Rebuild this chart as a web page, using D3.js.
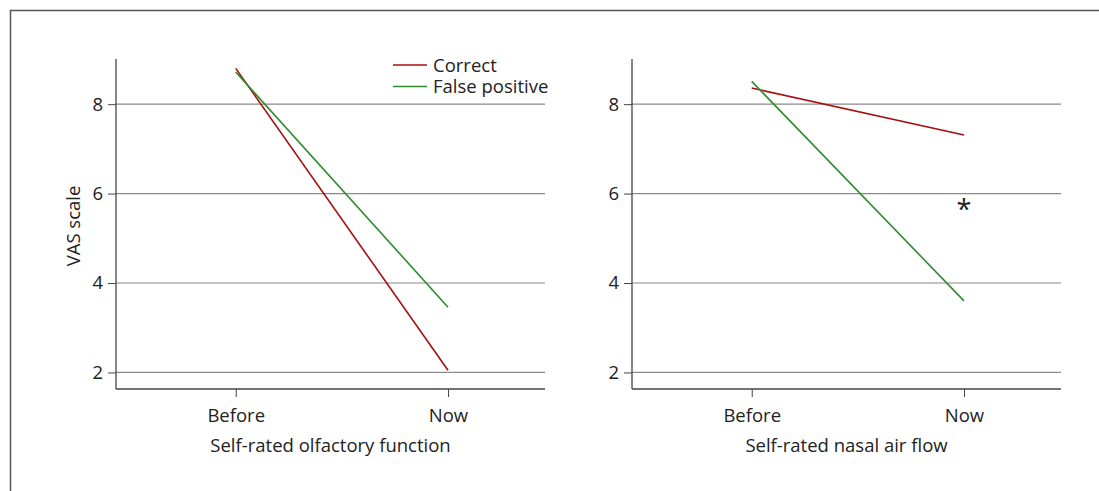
<!DOCTYPE html>
<html><head><meta charset="utf-8">
<script src="https://cdn.jsdelivr.net/npm/d3@7"></script>
<style>body{margin:0;background:#fff;} text{font-family:"Open Sans","Noto Sans",sans-serif;fill:#222;}</style>
</head><body>
<svg id="c" width="1099" height="491"></svg>
<script>
const categories = ["Before", "Now"];
const seriesNames = ["Correct", "False positive"];
const olfactoryCorrect = [8.80, 2.05];
const olfactoryFalsePositive = [8.72, 3.46];
const airflowCorrect = [8.36, 7.31];
const airflowFalsePositive = [8.51, 3.60];
const yTicks = [2, 4, 6, 8];
const panelTitles = ["Self-rated olfactory function", "Self-rated nasal air flow"];
const colors = ["#a50f0f", "#2e8b2e"];
const FS = 18.5;
const FF = '"Open Sans","Noto Sans",sans-serif';

const svg = d3.select("#c");
// outer frame
svg.append("path").attr("d","M10.5,491 L10.5,10.5 L1099,10.5").attr("fill","none").attr("stroke","#555").attr("stroke-width",1.5);

const panels = [
  {x0:116, x1:545, series:[olfactoryCorrect, olfactoryFalsePositive], title:panelTitles[0], ylabel:true, legend:true, star:false},
  {x0:632, x1:1061, series:[airflowCorrect, airflowFalsePositive], title:panelTitles[1], ylabel:false, legend:false, star:true}
];
const yTop = 59, yBot = 389;
const y = d3.scaleLinear().domain([1.63, 9.01]).range([yBot, yTop]);

panels.forEach(p => {
  const x = d3.scaleLinear().domain([0.436, 2.457]).range([p.x0, p.x1]);
  const g = svg.append("g");
  // gridlines
  g.selectAll("line.grid").data(yTicks).enter().append("line")
    .attr("x1", p.x0).attr("x2", p.x1).attr("y1", d=>y(d)).attr("y2", d=>y(d))
    .attr("stroke","#8a8a8a").attr("stroke-width",1.2);
  // y axis
  const ya = g.append("g").attr("transform",`translate(${p.x0},0)`)
    .call(d3.axisLeft(y).tickValues(yTicks).tickSize(8).tickPadding(5).tickFormat(d3.format("d")));
  ya.select(".domain").remove();
  ya.selectAll("line").attr("stroke","#444");
  ya.selectAll("text").attr("font-size",FS).style("font-family",FF).attr("fill","#222");
  g.append("line").attr("x1",p.x0).attr("x2",p.x0).attr("y1",yTop).attr("y2",yBot).attr("stroke","#444").attr("stroke-width",1.3);
  // x axis
  const xa = g.append("g").attr("transform",`translate(0,${yBot})`)
    .call(d3.axisBottom(x).tickValues([1,2]).tickSize(8).tickPadding(0).tickFormat((d,i)=>categories[i]));
  xa.select(".domain").remove();
  xa.selectAll("line").attr("stroke","#444");
  xa.selectAll("text").attr("font-size",FS).style("font-family",FF).attr("fill","#222").attr("dy",null).attr("y",33);
  g.append("line").attr("x1",p.x0).attr("x2",p.x1).attr("y1",yBot).attr("y2",yBot).attr("stroke","#444").attr("stroke-width",1.3);
  // lines
  const line = d3.line().x((d,i)=>x(i+1)).y(d=>y(d));
  p.series.forEach((s,i)=>{
    g.append("path").attr("d", line(s)).attr("fill","none").attr("stroke",colors[i]).attr("stroke-width",1.6);
  });
  // title
  g.append("text").attr("x",(p.x0+p.x1)/2).attr("y",452).attr("text-anchor","middle").attr("font-size",FS).text(p.title);
  if (p.ylabel) {
    g.append("text").attr("transform",`translate(80,226) rotate(-90)`).attr("text-anchor","middle").attr("font-size",FS).text("VAS scale");
  }
  if (p.star) {
    g.append("text").attr("x", x(2)).attr("y", y(5.75)+14).attr("text-anchor","middle").attr("font-size",27).text("*");
  }
  if (p.legend) {
    seriesNames.forEach((n,i)=>{
      const ly = 65 + i*21.5;
      g.append("line").attr("x1",393).attr("x2",427).attr("y1",ly).attr("y2",ly).attr("stroke",colors[i]).attr("stroke-width",1.6);
      g.append("text").attr("x",433).attr("y",ly+6.5).attr("font-size",FS).text(n);
    });
  }
});
</script>
</body></html>
